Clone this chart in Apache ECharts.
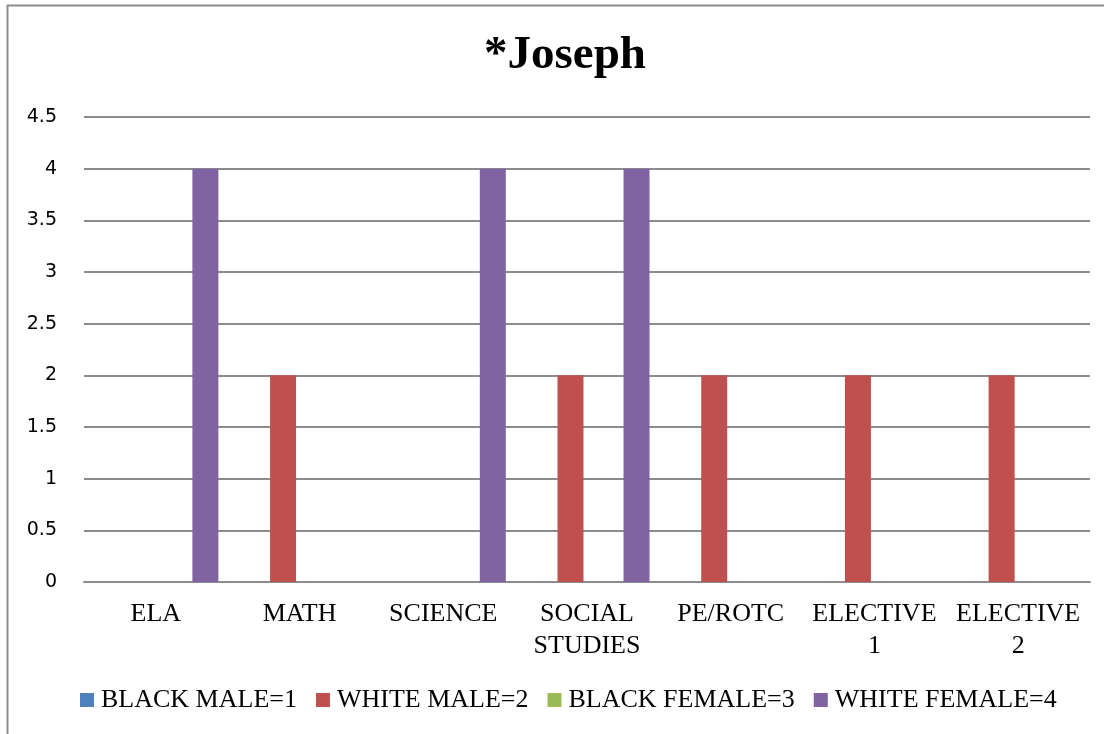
<!DOCTYPE html>
<html>
<head>
<meta charset="utf-8">
<script src="https://cdn.jsdelivr.net/npm/echarts@6/dist/echarts.min.js"></script>
<style>
html,body{margin:0;padding:0;background:#fff;}
#c{width:1110px;height:734px;}
</style>
</head>
<body>
<div id="c"></div>
<script>
const categories = ['ELA', 'MATH', 'SCIENCE', 'SOCIAL STUDIES', 'PE/ROTC', 'ELECTIVE 1', 'ELECTIVE 2'];
const seriesNames = ['BLACK MALE=1', 'WHITE MALE=2', 'BLACK FEMALE=3', 'WHITE FEMALE=4'];
const blackMale = [null, null, null, null, null, null, null];
const whiteMale = [null, 2, null, 2, 2, 2, 2];
const blackFemale = [null, null, null, null, null, null, null];
const whiteFemale = [4, null, 4, 4, null, null, null];
const yTicks = {min: 0, max: 4.5, interval: 0.5};
const colors = ['#4F81BD', '#C0504D', '#9BBB59', '#8064A2'];

const chart = echarts.init(document.getElementById('c'));
const dataSets = [blackMale, whiteMale, blackFemale, whiteFemale];
chart.setOption({
  animation: false,
  color: colors,
  title: {
    text: '*Joseph',
    left: 560,
    textAlign: 'center',
    top: 27,
    textStyle: {fontFamily: 'Liberation Serif', fontWeight: 'bold', fontSize: 47, color: '#000'}
  },
  graphic: [
    {type: 'line', shape: {x1: 7.5, y1: 5, x2: 7.5, y2: 734}, style: {stroke: '#8c8c8c', lineWidth: 2}},
    {type: 'line', shape: {x1: 7, y1: 5.5, x2: 1104, y2: 5.5}, style: {stroke: '#8c8c8c', lineWidth: 2}}
  ],
  legend: {
    top: 682,
    left: 75,
    padding: 5,
    itemWidth: 14,
    itemHeight: 14,
    itemGap: 19,
    icon: 'rect',
    textStyle: {fontFamily: 'Liberation Serif', fontSize: 26, color: '#000', padding: [0, 0, 0, 2]},
    data: seriesNames
  },
  grid: {left: 84, right: 20, top: 117, bottom: 152},
  xAxis: {
    type: 'category',
    data: categories,
    axisTick: {show: false},
    axisLine: {lineStyle: {color: '#8c8c8c', width: 2}},
    axisLabel: {
      interval: 0,
      margin: 16,
      fontFamily: 'Liberation Serif',
      fontSize: 26,
      lineHeight: 32,
      color: '#000',
      formatter: v => v.replace(' ', '\n')
    }
  },
  yAxis: {
    type: 'value',
    min: yTicks.min,
    max: yTicks.max,
    interval: yTicks.interval,
    axisLine: {show: false},
    axisTick: {show: false},
    axisLabel: {margin: 27, fontFamily: 'DejaVu Sans', fontSize: 19, color: '#000'},
    splitLine: {lineStyle: {color: '#8c8c8c', width: 2}}
  },
  series: seriesNames.map((n, i) => ({
    name: n,
    type: 'bar',
    data: dataSets[i],
    barWidth: 26,
    barGap: '27%'
  }))
});
</script>
</body>
</html>
